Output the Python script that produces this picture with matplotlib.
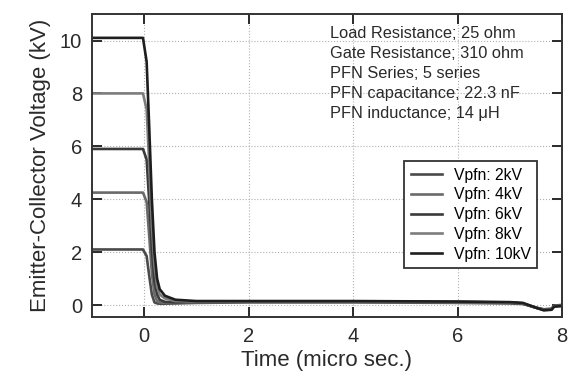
import numpy as np
import matplotlib.pyplot as plt

plt.rcParams['font.family'] = ['Liberation Sans', 'DejaVu Sans']

# time axis (micro sec.)
t = [-1.0, -0.02, 0.05, 0.1, 0.15, 0.2, 0.25, 0.3, 0.4, 0.6, 1.0, 2.0, 4.0, 6.0, 7.0, 7.25, 7.5, 7.65, 7.8, 7.85, 8.0]

v_2kv = [2.1, 2.1, 1.85, 1.1, 0.4, 0.1, 0.06, 0.05, 0.05, 0.06, 0.08, 0.1, 0.1, 0.08, 0.06, 0.04, -0.1, -0.16, -0.14, -0.02, 0.0]
v_4kv = [4.25, 4.25, 3.9, 2.6, 1.2, 0.4, 0.15, 0.1, 0.08, 0.08, 0.1, 0.12, 0.12, 0.1, 0.08, 0.05, -0.1, -0.17, -0.15, -0.03, 0.0]
v_6kv = [5.9, 5.9, 5.5, 3.9, 2.1, 0.9, 0.4, 0.2, 0.12, 0.1, 0.12, 0.13, 0.13, 0.12, 0.09, 0.06, -0.1, -0.18, -0.16, -0.04, -0.02]
v_8kv = [8.0, 8.0, 7.4, 5.3, 3.0, 1.5, 0.7, 0.4, 0.25, 0.15, 0.13, 0.14, 0.14, 0.12, 0.1, 0.07, -0.1, -0.19, -0.17, -0.05, -0.03]
v_10kv = [10.1, 10.1, 9.2, 6.7, 4.0, 2.0, 1.0, 0.6, 0.35, 0.2, 0.15, 0.15, 0.15, 0.13, 0.11, 0.08, -0.1, -0.2, -0.18, -0.06, -0.04]

labels = ['Vpfn: 2kV', 'Vpfn: 4kV', 'Vpfn: 6kV', 'Vpfn: 8kV', 'Vpfn: 10kV']
colors = ['#4a4a4a', '#6a6a6a', '#3a3a3a', '#7c7c7c', '#1e1e1e']

info = ['Load Resistance; 25 ohm',
        'Gate Resistance; 310 ohm',
        'PFN Series; 5 series',
        'PFN capacitance; 22.3 nF',
        'PFN inductance; 14 \u03bcH']

fig, ax = plt.subplots(figsize=(5.7, 3.8), dpi=100)
fig.subplots_adjust(left=0.161, right=0.986, top=0.963, bottom=0.166)

for v, lab, c in zip([v_2kv, v_4kv, v_6kv, v_8kv, v_10kv], labels, colors):
    ax.plot(t, v, color=c, lw=1.9, label=lab)

ax.set_xlim(-1, 8)
ax.set_ylim(-0.45, 11)
ax.set_xticks([0, 2, 4, 6, 8])
ax.set_yticks([0, 2, 4, 6, 8, 10])
ax.grid(True, linestyle=':', color='#b0b0b0', lw=0.8)
ax.tick_params(direction='in', top=True, right=True, length=7, width=1.4,
               labelsize=14.5, colors='#2a2a2a', pad=7)
for s in ax.spines.values():
    s.set_linewidth(1.4)
    s.set_color('#333333')

ax.set_xlabel('Time (micro sec.)', fontsize=16, color='#2a2a2a', labelpad=3)
ax.set_ylabel('Emitter-Collector Voltage (kV)', fontsize=16, color='#2a2a2a', labelpad=6)

for i, line in enumerate(info):
    ax.text(0.506, 0.937 - i * 0.066, line, transform=ax.transAxes,
            fontsize=11.8, color='#2a2a2a', va='center')

leg = ax.legend(loc='lower right', bbox_to_anchor=(0.947, 0.162), borderaxespad=0,
                fontsize=11.3, frameon=True, fancybox=False, edgecolor='#333333',
                framealpha=1, handlelength=2.0, handletextpad=0.75,
                labelspacing=0.3, borderpad=0.4)
leg.get_frame().set_linewidth(1.3)

fig.savefig('out.png', dpi=100)
